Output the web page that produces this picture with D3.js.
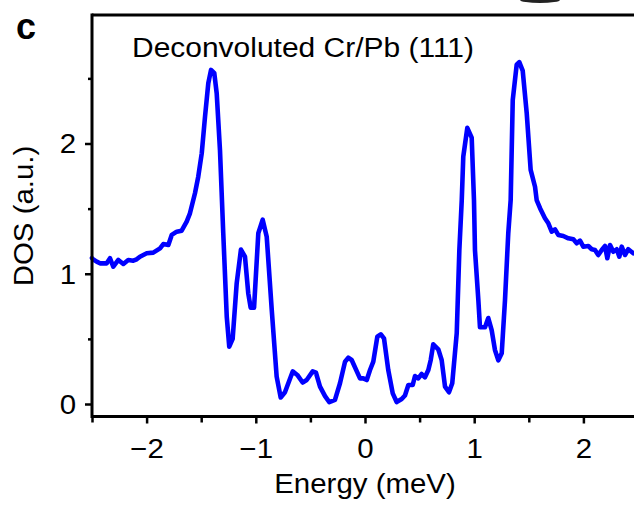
<!DOCTYPE html>
<html>
<head>
<meta charset="utf-8">
<script src="https://cdn.jsdelivr.net/npm/d3@7"></script>
<style>
  html, body { margin: 0; padding: 0; background: #fff; }
  svg { display: block; }
  text { font-family: "Liberation Sans", Arial, Helvetica, sans-serif; fill: #000; }
</style>
</head>
<body>
<svg id="chart" width="634" height="507"></svg>
<script>
// ---- data ----
const energy = [-2.50,-2.491,-2.457,-2.427,-2.365,-2.335,-2.305,-2.259,-2.213,-2.168,-2.122,-2.091,-2.061,-1.999,-1.939,-1.877,-1.847,-1.801,-1.770,-1.724,-1.679,-1.633,-1.603,-1.557,-1.527,-1.495,-1.465,-1.435,-1.410,-1.380,-1.358,-1.328,-1.298,-1.266,-1.243,-1.212,-1.175,-1.136,-1.099,-1.069,-1.047,-1.016,-0.977,-0.937,-0.900,-0.854,-0.809,-0.772,-0.733,-0.662,-0.620,-0.571,-0.534,-0.479,-0.449,-0.412,-0.366,-0.327,-0.275,-0.229,-0.183,-0.153,-0.122,-0.046,-0.016,0.016,0.046,0.076,0.113,0.144,0.174,0.213,0.254,0.290,0.336,0.366,0.397,0.437,0.458,0.488,0.519,0.549,0.580,0.602,0.625,0.671,0.702,0.733,0.769,0.799,0.840,0.864,0.886,0.900,0.937,0.977,0.998,1.007,1.038,1.053,1.099,1.129,1.160,1.190,1.221,1.252,1.282,1.312,1.334,1.353,1.389,1.413,1.444,1.481,1.517,1.557,1.572,1.603,1.648,1.679,1.710,1.740,1.770,1.816,1.862,1.908,1.939,1.969,1.999,2.045,2.076,2.106,2.136,2.168,2.198,2.219,2.244,2.274,2.305,2.329,2.351,2.381,2.411,2.457,2.49];
const dos = [1.12,1.111,1.093,1.080,1.080,1.119,1.054,1.106,1.075,1.106,1.100,1.111,1.131,1.157,1.162,1.195,1.228,1.221,1.298,1.323,1.331,1.400,1.464,1.618,1.745,1.925,2.206,2.462,2.565,2.540,2.385,1.950,1.311,0.670,0.440,0.500,0.927,1.185,1.131,0.850,0.740,0.740,1.311,1.415,1.284,0.722,0.210,0.050,0.090,0.250,0.223,0.165,0.184,0.250,0.240,0.133,0.060,0.015,0.032,0.159,0.325,0.355,0.338,0.197,0.197,0.184,0.261,0.325,0.517,0.535,0.504,0.261,0.082,0.015,0.038,0.065,0.146,0.146,0.215,0.197,0.230,0.205,0.261,0.338,0.458,0.420,0.338,0.133,0.090,0.159,0.543,1.182,1.566,1.899,2.120,2.045,1.566,1.182,0.798,0.589,0.589,0.660,0.568,0.415,0.335,0.389,0.798,1.311,1.566,2.334,2.605,2.625,2.560,2.232,1.797,1.668,1.566,1.503,1.426,1.387,1.323,1.341,1.298,1.290,1.272,1.264,1.234,1.254,1.208,1.213,1.188,1.182,1.144,1.182,1.213,1.119,1.221,1.169,1.188,1.131,1.208,1.144,1.188,1.157,1.17];
const xMajorTicks = [-2, -1, 0, 1, 2];
const xMinorTicks = [-2.5, -1.5, -0.5, 0.5, 1.5];
const yMajorTicks = [0, 1, 2];
const yMinorTicks = [0.5, 1.5, 2.5];
const titleText = "Deconvoluted Cr/Pb (111)";
const xLabel = "Energy (meV)";
const yLabel = "DOS (a.u.)";
const panelLabel = "c";

// ---- layout ----
const svg = d3.select("#chart");
const x = d3.scaleLinear().domain([-2.5, 2.5]).range([92, 638]);
const y = d3.scaleLinear().domain([0, 2]).range([404, 143.5]);
const yBottom = y(-0.096);   // x-axis line position
const yTop = 15;             // top frame line
const fs = 27;
const stretch = 1.09;

// frame: top line
svg.append("line")
  .attr("x1", x(-2.5)).attr("x2", 634)
  .attr("y1", yTop).attr("y2", yTop)
  .attr("stroke", "#000").attr("stroke-width", 3);

// curve
const line = d3.line().x((d, i) => x(energy[i])).y((d, i) => y(dos[i])).curve(d3.curveLinear);
svg.append("path")
  .datum(dos)
  .attr("d", line)
  .attr("fill", "none")
  .attr("stroke", "#0000ff")
  .attr("stroke-width", 4.6)
  .attr("stroke-linejoin", "round")
  .attr("stroke-linecap", "round");

// x axis
const gx = svg.append("g").attr("transform", `translate(0,${yBottom})`);
gx.call(d3.axisBottom(x).tickValues(xMajorTicks).tickSize(7).tickPadding(15).tickFormat(d3.format("d")));
const gxm = svg.append("g").attr("transform", `translate(0,${yBottom})`);
gxm.call(d3.axisBottom(x).tickValues(xMinorTicks).tickSize(6).tickFormat(""));
gxm.select(".domain").remove();

// y axis
const gy = svg.append("g").attr("transform", `translate(${x(-2.5)},0)`);
gy.call(d3.axisLeft(y).tickValues(yMajorTicks).tickSize(7).tickPadding(9).tickFormat(d3.format("d")));
const gym = svg.append("g").attr("transform", `translate(${x(-2.5)},0)`);
gym.call(d3.axisLeft(y).tickValues(yMinorTicks).tickSize(4).tickFormat(""));
gym.select(".domain").remove();

// make domains span full frame
gx.select(".domain").attr("d", `M${x(-2.5)},0H634`);
gy.select(".domain").attr("d", `M0,${yTop - 1.5}V${yBottom + 1.5}`);

svg.selectAll(".domain").attr("stroke", "#000").attr("stroke-width", 3);
svg.selectAll(".tick line").attr("stroke", "#000").attr("stroke-width", 2.5);
svg.selectAll(".tick text").attr("font-size", fs).attr("font-family", null).style("font-family", '"Liberation Sans", Arial, sans-serif').attr("fill", "#000");
gy.selectAll(".tick text").attr("dy", "0.35em");

// title
svg.append("text").attr("class", "title")
  .attr("x", 132).attr("y", 57)
  .attr("font-size", fs)
  .attr("textLength", 342)
  .attr("lengthAdjust", "spacingAndGlyphs")
  .text(titleText);

// x label
svg.append("text").attr("class", "st")
  .attr("x", 365).attr("y", 493)
  .attr("text-anchor", "middle")
  .attr("font-size", fs)
  .text(xLabel);

// y label
svg.append("text").attr("class", "st")
  .attr("transform", `translate(33,216) rotate(-90)`)
  .attr("text-anchor", "middle")
  .attr("font-size", fs)
  .text(yLabel);

// panel label
svg.append("text")
  .attr("x", 16).attr("y", 39)
  .attr("font-size", 36)
  .attr("font-weight", "bold")
  .text(panelLabel);

// small fragment of neighbouring panel at top edge
svg.append("ellipse")
  .attr("cx", 540).attr("cy", 0).attr("rx", 20).attr("ry", 3)
  .attr("fill", "#222");

// horizontal stretch of text to mimic original font width
svg.selectAll(".st, .tick text").each(function () {
  const len = this.getComputedTextLength();
  if (len > 0) {
    d3.select(this).attr("textLength", len * stretch).attr("lengthAdjust", "spacingAndGlyphs");
  }
});
</script>
</body>
</html>
